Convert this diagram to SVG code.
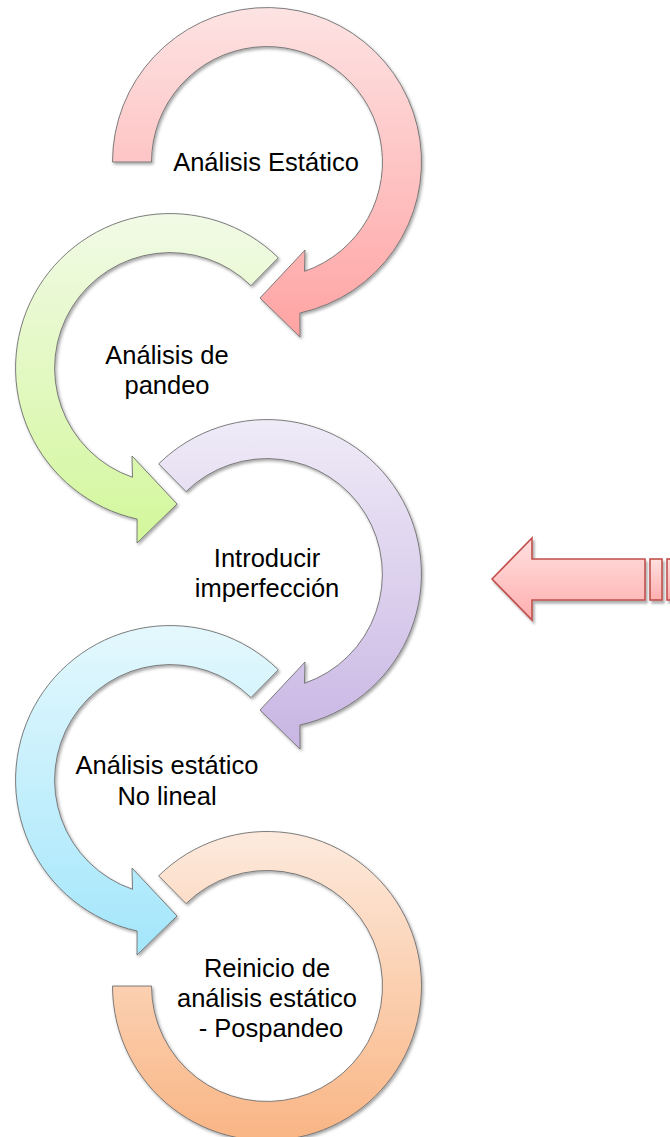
<svg xmlns="http://www.w3.org/2000/svg" width="670" height="1137" viewBox="0 0 670 1137">
  <style>
    .ring { stroke: #6f6f6f; stroke-width: 0.9; filter: url(#shadow); }
    .label { font-family: "Liberation Sans", Arial, sans-serif; font-size: 25.5px; fill: #000; text-anchor: middle; }
    .pointer { fill: url(#gPointer); stroke: #c0504d; stroke-width: 1.6; }
  </style>
  <defs>
    <filter id="shadow" x="-10%" y="-10%" width="125%" height="125%">
      <feDropShadow dx="1.5" dy="2" stdDeviation="1.5" flood-color="#000" flood-opacity="0.35"/>
    </filter>
    <filter id="hardShadow" x="-10%" y="-10%" width="125%" height="130%">
      <feDropShadow dx="2" dy="3" stdDeviation="0.8" flood-color="#000" flood-opacity="0.3"/>
    </filter>
    <linearGradient id="gRed" x1="0" y1="0" x2="0" y2="1">
      <stop offset="0" stop-color="#fde3e3"/>
      <stop offset="1" stop-color="#ffa3a3"/>
    </linearGradient>
    <linearGradient id="gGreen" x1="0" y1="0" x2="0" y2="1">
      <stop offset="0" stop-color="#f1fae6"/>
      <stop offset="1" stop-color="#d3f79b"/>
    </linearGradient>
    <linearGradient id="gPurple" x1="0" y1="0" x2="0" y2="1">
      <stop offset="0" stop-color="#efebf7"/>
      <stop offset="1" stop-color="#c8b5e3"/>
    </linearGradient>
    <linearGradient id="gBlue" x1="0" y1="0" x2="0" y2="1">
      <stop offset="0" stop-color="#e4f8fd"/>
      <stop offset="1" stop-color="#a3e6fb"/>
    </linearGradient>
    <linearGradient id="gOrange" x1="0" y1="0" x2="0" y2="1">
      <stop offset="0" stop-color="#fdeadd"/>
      <stop offset="1" stop-color="#f9b584"/>
    </linearGradient>
    <linearGradient id="gPointer" x1="0" y1="0" x2="0" y2="1">
      <stop offset="0" stop-color="#ffe0e0"/>
      <stop offset="1" stop-color="#ffaeae"/>
    </linearGradient>
  </defs>

  <rect width="670" height="1137" fill="#fff"/>

  <!-- step 1: clockwise ring arrow -->
  <g id="step-analisis-estatico">
    <path class="ring" fill="url(#gRed)" d="M 112.5 162 A 154.5 154.5 0 1 1 299.9 313 L 300 337 L 260 298 L 305 250 L 304.5 271.3 A 115.5 115.5 0 1 0 151.5 162 Z"/>
    <text class="label" x="266" y="171">Análisis Estático</text>
  </g>

  <!-- step 2: counter-clockwise ring arrow -->
  <g id="step-pandeo">
    <path class="ring" fill="url(#gGreen)" d="M 278.3 257.8 A 154.5 154.5 0 1 0 137.1 519 L 137 543 L 177 504 L 132 456 L 132.5 477.3 A 115.5 115.5 0 1 1 250.95 285.6 Z"/>
    <text class="label" x="167" y="364">Análisis de</text>
    <text class="label" x="167" y="394">pandeo</text>
  </g>

  <!-- step 3 -->
  <g id="step-imperfeccion">
    <path class="ring" fill="url(#gPurple)" d="M 158.7 463.8 A 154.5 154.5 0 1 1 299.9 725 L 300 749 L 260 710 L 305 662 L 304.5 683.3 A 115.5 115.5 0 1 0 186.05 491.6 Z"/>
    <text class="label" x="267" y="567">Introducir</text>
    <text class="label" x="267" y="597">imperfección</text>
  </g>

  <!-- step 4 -->
  <g id="step-no-lineal">
    <path class="ring" fill="url(#gBlue)" d="M 278.3 669.8 A 154.5 154.5 0 1 0 137.1 931 L 137 955 L 177 916 L 132 868 L 132.5 889.3 A 115.5 115.5 0 1 1 250.95 697.6 Z"/>
    <text class="label" x="167" y="774">Análisis estático</text>
    <text class="label" x="167" y="805">No lineal</text>
  </g>

  <!-- step 5: open ring, no arrowhead -->
  <g id="step-pospandeo">
    <path class="ring" fill="url(#gOrange)" d="M 112.5 986 A 154.5 154.5 0 1 0 158.7 875.8 L 186.05 903.6 A 115.5 115.5 0 1 1 151.5 986 Z"/>
    <text class="label" x="267" y="977">Reinicio de</text>
    <text class="label" x="267" y="1007">análisis estático</text>
    <text class="label" x="271" y="1037">- Pospandeo</text>
  </g>

  <!-- striped pointer arrow -->
  <g id="connectors" filter="url(#hardShadow)">
    <path class="pointer" d="M 492 579 L 532 538 L 532 559 L 645 559 L 645 600 L 532 600 L 532 620 Z"/>
    <rect class="pointer" x="650" y="559" width="12" height="41"/>
    <rect class="pointer" x="667" y="559" width="12" height="41"/>
  </g>
</svg>
